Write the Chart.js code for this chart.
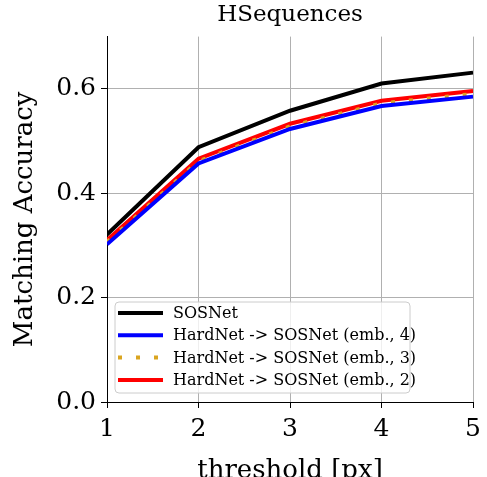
<!DOCTYPE html>
<html>
<head>
<meta charset="utf-8">
<script src="https://cdn.jsdelivr.net/npm/chart.js@4"></script>
<style>
  body { margin: 0; background: #fff; }
  canvas { display: block; }
</style>
</head>
<body>
<canvas id="grafico" width="487" height="477"></canvas>
<script>
// --- DADOS ---
const thresholds = [1, 2, 3, 4, 5];
const yTicks = [0.0, 0.2, 0.4, 0.6];
const nomes = ["SOSNet", "HardNet -> SOSNet (emb., 4)", "HardNet -> SOSNet (emb., 3)", "HardNet -> SOSNet (emb., 2)"];
const sosnet = [0.321, 0.488, 0.558, 0.610, 0.631];
const emb4 = [0.302, 0.457, 0.523, 0.567, 0.585];
const emb3 = [0.306, 0.461, 0.528, 0.572, 0.590];
const emb2 = [0.310, 0.466, 0.533, 0.577, 0.596];

const fonte = "'DejaVu Serif', serif";
const pontos = arr => arr.map((v, i) => ({ x: thresholds[i], y: v }));

function serie(label, vals, cor, dash) {
    return {
        label, data: pontos(vals),
        borderColor: cor, backgroundColor: cor,
        borderWidth: 4, borderDash: dash || [],
        pointRadius: 0, tension: 0, fill: false
    };
}

// legenda dentro do grafico (canto inferior esquerdo)
const legendaInterna = {
    id: 'legendaInterna',
    afterDraw(chart) {
        const ctx = chart.ctx;
        const a = chart.chartArea;
        const x0 = a.left + 8, y0 = a.bottom - 100, w = 295, h = 91;
        ctx.save();
        ctx.beginPath();
        ctx.roundRect(x0, y0, w, h, 4);
        ctx.fillStyle = 'rgba(255,255,255,0.8)';
        ctx.fill();
        ctx.strokeStyle = '#cccccc';
        ctx.lineWidth = 1;
        ctx.stroke();
        ctx.font = "16px " + fonte;
        ctx.textBaseline = 'middle';
        chart.data.datasets.forEach((ds, i) => {
            const y = y0 + 11 + i * 22.3;
            ctx.beginPath();
            ctx.setLineDash(ds.borderDash);
            ctx.strokeStyle = ds.borderColor;
            ctx.lineWidth = 4;
            ctx.moveTo(x0 + 3, y);
            ctx.lineTo(x0 + 48, y);
            ctx.stroke();
            ctx.setLineDash([]);
            ctx.fillStyle = '#000';
            ctx.fillText(ds.label, x0 + 58, y + 1);
        });
        ctx.restore();
    }
};

new Chart(document.getElementById('grafico'), {
    type: 'line',
    data: {
        datasets: [
            serie(nomes[0], sosnet, '#000000'),
            serie(nomes[1], emb4, '#0000ff'),
            serie(nomes[2], emb3, '#daa520', [4, 14]),
            serie(nomes[3], emb2, '#ff0000')
        ]
    },
    options: {
        responsive: false,
        animation: false,
        layout: { padding: { right: 12 } },
        plugins: {
            legend: { display: false },
            tooltip: { enabled: false },
            title: {
                display: true, text: 'HSequences', color: '#000', fullSize: false,
                font: { family: fonte, size: 23, style: 'normal', weight: 'normal' },
                padding: { top: 1, bottom: 8 }
            }
        },
        scales: {
            x: {
                type: 'linear', min: 1, max: 5,
                afterBuildTicks: s => { s.ticks = thresholds.map(v => ({ value: v })); },
                afterFit: s => { s.height = 75; },
                ticks: { color: '#000', font: { family: fonte, size: 25 }, padding: 6, maxRotation: 0 },
                grid: { color: '#b0b0b0', lineWidth: 1, tickColor: '#000', tickLength: 6 },
                border: { color: '#000', width: 1 },
                title: {
                    display: true, text: 'threshold [px]', color: '#000',
                    font: { family: fonte, size: 26 }, padding: { top: 0, bottom: -10 }
                }
            },
            y: {
                min: 0, max: 0.7,
                afterBuildTicks: s => { s.ticks = yTicks.map(v => ({ value: v })); },
                afterFit: s => { s.width = 107; },
                ticks: { color: '#000', font: { family: fonte, size: 25 }, padding: 5, callback: v => v.toFixed(1) },
                grid: { color: '#b0b0b0', lineWidth: 1, tickColor: '#000', tickLength: 6 },
                border: { color: '#000', width: 1 },
                title: {
                    display: true, text: 'Matching Accuracy', color: '#000',
                    font: { family: fonte, size: 26 }, padding: { top: 10, bottom: 0 }
                }
            }
        }
    },
    plugins: [legendaInterna]
});
</script>
</body>
</html>
